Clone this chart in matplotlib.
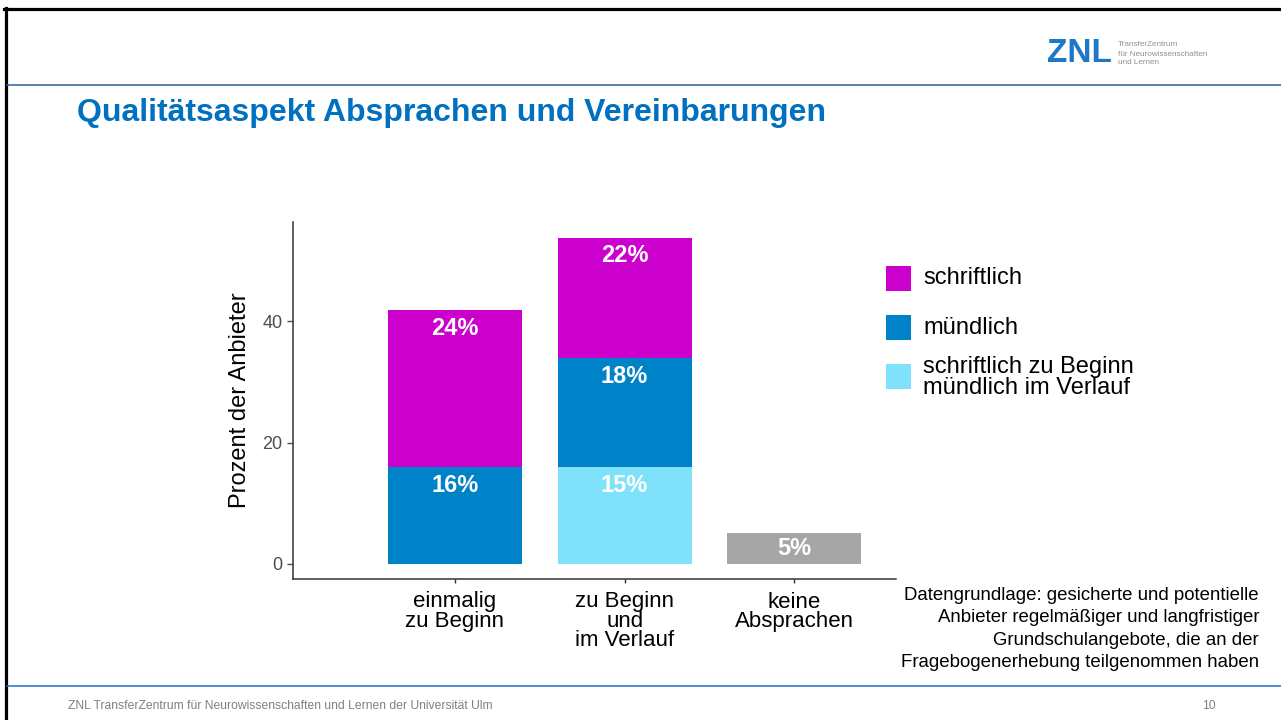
import numpy as np
import matplotlib.pyplot as plt
from matplotlib.patches import Rectangle
from matplotlib.lines import Line2D

plt.rcParams['font.family'] = ['Liberation Sans', 'DejaVu Sans']

W, H = 1281, 720

# Daten
kategorien = ['einmalig\nzu Beginn', 'zu Beginn\nund\nim Verlauf', 'keine\nAbsprachen']
serien = ['schriftlich zu Beginn\nmündlich im Verlauf', 'mündlich', 'schriftlich', 'keine']
hoehen = {
    'schriftlich zu Beginn\nmündlich im Verlauf': [0, 16.0, 0],
    'mündlich': [16.0, 18.0, 0],
    'schriftlich': [25.9, 19.8, 0],
    'keine': [0, 0, 5.1],
}
beschriftungen = {
    'schriftlich zu Beginn\nmündlich im Verlauf': ['', '15%', ''],
    'mündlich': ['16%', '18%', ''],
    'schriftlich': ['24%', '22%', ''],
    'keine': ['', '', '5%'],
}
farben = {
    'schriftlich zu Beginn\nmündlich im Verlauf': '#80E2FA',
    'mündlich': '#0082C8',
    'schriftlich': '#CC00CC',
    'keine': '#A6A6A6',
}
legende = ['schriftlich', 'mündlich', 'schriftlich zu Beginn\nmündlich im Verlauf']
y_ticks = [0, 20, 40]


def px(x, y):
    # Pixelkoordinaten (oben links) -> Figure-Koordinaten
    return x / W, 1 - y / H


fig = plt.figure(figsize=(W / 100, H / 100), dpi=100)
fig.patch.set_facecolor('white')

# Folienrahmen und Trennlinien
fig.add_artist(Line2D([px(4, 0)[0], 1], [px(0, 9)[1]] * 2, color='black', lw=2.3))
fig.add_artist(Line2D([px(5.5, 0)[0]] * 2, [px(0, 8)[1], 0], color='black', lw=2.3))
fig.add_artist(Line2D([px(7, 0)[0], 1], [px(0, 85)[1]] * 2, color='#2E5C9A', lw=1.1))
fig.add_artist(Line2D([px(7, 0)[0], 1], [px(0, 686)[1]] * 2, color='#1F6FBF', lw=1.1))

# Logo
fig.text(*px(1047, 53), 'ZNL', color='#1E78C8', fontsize=24, fontweight='bold',
         ha='left', va='center')
fig.text(*px(1118, 54), 'TransferZentrum\nfür Neurowissenschaften\nund Lernen', color='#909090',
         fontsize=5.9, ha='left', va='center', linespacing=1.4)

# Titel
fig.text(*px(77, 113), 'Qualitätsaspekt Absprachen und Vereinbarungen', color='#0070C0',
         fontsize=23, fontweight='bold', ha='left', va='center')

# Diagramm
x0, x1, y0, y1 = 293, 896, 222, 579
ax = fig.add_axes([x0 / W, 1 - y1 / H, (x1 - x0) / W, (y1 - y0) / H])
pos = np.arange(len(kategorien))
unten = np.zeros(len(kategorien))
for s in serien:
    werte = np.array(hoehen[s])
    ax.bar(pos, werte, bottom=unten, width=0.79, color=farben[s], linewidth=0)
    for i, (w, t) in enumerate(zip(werte, beschriftungen[s])):
        if t:
            y = max(unten[i] + w - 3.0, unten[i] + w / 2)
            ax.text(pos[i], y, t, color='white', fontsize=17, fontweight='bold',
                    ha='center', va='center')
    unten += werte

ax.set_xlim(-0.955, 2.6)
ax.set_ylim(-2.48, 56.4)
ax.set_yticks(y_ticks)
ax.set_xticks(pos)
ax.set_xticklabels(kategorien, fontsize=16, color='black', linespacing=0.9)
ax.tick_params(axis='y', labelsize=13, labelcolor='#4D4D4D', color='#4D4D4D', length=4, width=1)
ax.tick_params(axis='x', color='#333333', length=3, width=1, pad=6)
ax.set_ylabel('Prozent der Anbieter', fontsize=17, color='black', labelpad=8)
for side in ['top', 'right']:
    ax.spines[side].set_visible(False)
for side in ['left', 'bottom']:
    ax.spines[side].set_color('#333333')
    ax.spines[side].set_linewidth(1.1)

# Legende
leg_y = [278, 327.5, 376.5]
for name, yy in zip(legende, leg_y):
    fx, fy = px(886, yy + 12.5)
    fig.add_artist(Rectangle((fx, fy), 25 / W, 25 / H, color=farben[name], lw=0))
    fig.text(*px(923, yy + (1 if '\n' in name else 0)), name, fontsize=17, color='black',
             ha='left', va='center', linespacing=0.95)

# Datengrundlage
fig.text(*px(1259, 587), 'Datengrundlage: gesicherte und potentielle\n'
         'Anbieter regelmäßiger und langfristiger\n'
         'Grundschulangebote, die an der\n'
         'Fragebogenerhebung teilgenommen haben',
         fontsize=13.4, ha='right', va='top', linespacing=1.42, color='black')

# Fußzeile
fig.text(*px(68, 706), 'ZNL TransferZentrum für Neurowissenschaften und Lernen der Universität Ulm',
         fontsize=8.7, color='#808080', ha='left', va='center')
fig.text(*px(1216, 706), '10', fontsize=8.7, color='#808080', ha='right', va='center')

fig.savefig('out.png', dpi=100)
